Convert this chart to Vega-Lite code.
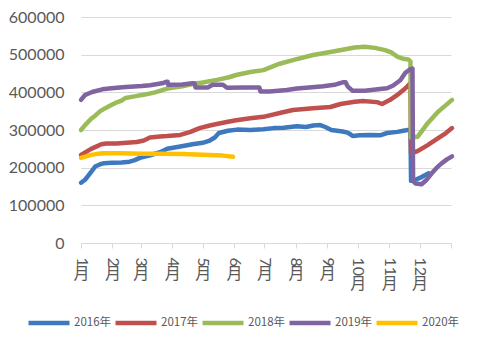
{
  "$schema": "https://vega.github.io/schema/vega-lite/v6.json",
  "width": 370,
  "height": 226,
  "autosize": {"type": "none"},
  "padding": {"left": 81, "top": 17, "right": 33, "bottom": 97},
  "background": "white",
  "config": {"view": {"stroke": null}},
  "data": {"values": [
    {"year":"2016年","day":0,"value":160000},{"year":"2016年","day":4,"value":168000},{"year":"2016年","day":7,"value":178000},{"year":"2016年","day":11,"value":192000},{"year":"2016年","day":14,"value":203000},{"year":"2016年","day":19,"value":209000},{"year":"2016年","day":23,"value":212000},{"year":"2016年","day":30,"value":213000},{"year":"2016年","day":40,"value":214000},{"year":"2016年","day":48,"value":216000},{"year":"2016年","day":53,"value":220000},{"year":"2016年","day":58,"value":226000},{"year":"2016年","day":68,"value":233000},{"year":"2016年","day":78,"value":241000},{"year":"2016年","day":85,"value":250000},{"year":"2016年","day":98,"value":256000},{"year":"2016年","day":110,"value":262000},{"year":"2016年","day":120,"value":266000},{"year":"2016年","day":127,"value":272000},{"year":"2016年","day":132,"value":280000},{"year":"2016年","day":136,"value":292000},{"year":"2016年","day":145,"value":298000},{"year":"2016年","day":154,"value":301000},{"year":"2016年","day":167,"value":300000},{"year":"2016年","day":180,"value":302000},{"year":"2016年","day":190,"value":305000},{"year":"2016年","day":200,"value":306000},{"year":"2016年","day":213,"value":310000},{"year":"2016年","day":222,"value":308000},{"year":"2016年","day":229,"value":312000},{"year":"2016年","day":236,"value":313000},{"year":"2016年","day":241,"value":308000},{"year":"2016年","day":247,"value":300000},{"year":"2016年","day":258,"value":296000},{"year":"2016年","day":263,"value":293000},{"year":"2016年","day":266,"value":288000},{"year":"2016年","day":268,"value":284000},{"year":"2016年","day":275,"value":286000},{"year":"2016年","day":285,"value":287000},{"year":"2016年","day":295,"value":286000},{"year":"2016年","day":302,"value":292000},{"year":"2016年","day":312,"value":295000},{"year":"2016年","day":318,"value":298000},{"year":"2016年","day":324,"value":301000},{"year":"2016年","day":325,"value":302000},{"year":"2016年","day":325.6,"value":165000},{"year":"2016年","day":330,"value":168000},{"year":"2016年","day":336,"value":175000},{"year":"2016年","day":343,"value":185000},
    {"year":"2017年","day":0,"value":234000},{"year":"2017年","day":5,"value":242000},{"year":"2017年","day":10,"value":250000},{"year":"2017年","day":15,"value":256000},{"year":"2017年","day":20,"value":262000},{"year":"2017年","day":25,"value":264000},{"year":"2017年","day":35,"value":264000},{"year":"2017年","day":45,"value":266000},{"year":"2017年","day":55,"value":268000},{"year":"2017年","day":62,"value":272000},{"year":"2017年","day":68,"value":280000},{"year":"2017年","day":78,"value":283000},{"year":"2017年","day":85,"value":284000},{"year":"2017年","day":98,"value":287000},{"year":"2017年","day":108,"value":295000},{"year":"2017年","day":117,"value":305000},{"year":"2017年","day":127,"value":312000},{"year":"2017年","day":134,"value":316000},{"year":"2017年","day":145,"value":322000},{"year":"2017年","day":153,"value":326000},{"year":"2017年","day":167,"value":331000},{"year":"2017年","day":180,"value":335000},{"year":"2017年","day":196,"value":345000},{"year":"2017年","day":209,"value":353000},{"year":"2017年","day":229,"value":358000},{"year":"2017年","day":246,"value":361000},{"year":"2017年","day":256,"value":369000},{"year":"2017年","day":270,"value":375000},{"year":"2017年","day":278,"value":377000},{"year":"2017年","day":292,"value":374000},{"year":"2017年","day":297,"value":369000},{"year":"2017年","day":305,"value":380000},{"year":"2017年","day":312,"value":393000},{"year":"2017年","day":318,"value":406000},{"year":"2017年","day":322,"value":416000},{"year":"2017年","day":325,"value":425000},{"year":"2017年","day":325.6,"value":238000},{"year":"2017年","day":332,"value":244000},{"year":"2017年","day":342,"value":260000},{"year":"2017年","day":352,"value":278000},{"year":"2017年","day":360,"value":292000},{"year":"2017年","day":366,"value":305000},
    {"year":"2018年","day":0,"value":300000},{"year":"2018年","day":4,"value":313000},{"year":"2018年","day":10,"value":330000},{"year":"2018年","day":14,"value":338000},{"year":"2018年","day":19,"value":350000},{"year":"2018年","day":24,"value":358000},{"year":"2018年","day":29,"value":365000},{"year":"2018年","day":34,"value":372000},{"year":"2018年","day":40,"value":378000},{"year":"2018年","day":44,"value":385000},{"year":"2018年","day":50,"value":388000},{"year":"2018年","day":54,"value":390000},{"year":"2018年","day":63,"value":394000},{"year":"2018年","day":73,"value":400000},{"year":"2018年","day":85,"value":410000},{"year":"2018年","day":100,"value":416000},{"year":"2018年","day":110,"value":422000},{"year":"2018年","day":120,"value":426000},{"year":"2018年","day":134,"value":433000},{"year":"2018年","day":146,"value":440000},{"year":"2018年","day":153,"value":446000},{"year":"2018年","day":167,"value":454000},{"year":"2018年","day":180,"value":459000},{"year":"2018年","day":196,"value":476000},{"year":"2018年","day":210,"value":486000},{"year":"2018年","day":229,"value":499000},{"year":"2018年","day":246,"value":507000},{"year":"2018年","day":262,"value":515000},{"year":"2018年","day":270,"value":519000},{"year":"2018年","day":280,"value":521000},{"year":"2018年","day":290,"value":518000},{"year":"2018年","day":300,"value":512000},{"year":"2018年","day":306,"value":506000},{"year":"2018年","day":312,"value":495000},{"year":"2018年","day":318,"value":489000},{"year":"2018年","day":323,"value":487000},{"year":"2018年","day":325,"value":482000},{"year":"2018年","day":325.4,"value":280000},{"year":"2018年","day":332,"value":282000},{"year":"2018年","day":342,"value":318000},{"year":"2018年","day":352,"value":348000},{"year":"2018年","day":360,"value":366000},{"year":"2018年","day":366,"value":380000},
    {"year":"2019年","day":0,"value":380000},{"year":"2019年","day":4,"value":393000},{"year":"2019年","day":11,"value":401000},{"year":"2019年","day":21,"value":408000},{"year":"2019年","day":30,"value":411000},{"year":"2019年","day":44,"value":414000},{"year":"2019年","day":60,"value":417000},{"year":"2019年","day":68,"value":419000},{"year":"2019年","day":80,"value":424000},{"year":"2019年","day":84,"value":428000},{"year":"2019年","day":85.5,"value":428000},{"year":"2019年","day":86,"value":420000},{"year":"2019年","day":100,"value":421000},{"year":"2019年","day":110,"value":424000},{"year":"2019年","day":112,"value":424000},{"year":"2019年","day":113,"value":413000},{"year":"2019年","day":125,"value":413000},{"year":"2019年","day":130,"value":420000},{"year":"2019年","day":140,"value":420000},{"year":"2019年","day":144,"value":412000},{"year":"2019年","day":160,"value":413000},{"year":"2019年","day":176,"value":413000},{"year":"2019年","day":177,"value":402000},{"year":"2019年","day":186,"value":402000},{"year":"2019年","day":203,"value":406000},{"year":"2019年","day":213,"value":410000},{"year":"2019年","day":225,"value":413000},{"year":"2019年","day":239,"value":416000},{"year":"2019年","day":250,"value":420000},{"year":"2019年","day":259,"value":427000},{"year":"2019年","day":261,"value":427000},{"year":"2019年","day":263,"value":416000},{"year":"2019年","day":268,"value":404000},{"year":"2019年","day":280,"value":404000},{"year":"2019年","day":295,"value":409000},{"year":"2019年","day":302,"value":411000},{"year":"2019年","day":308,"value":418000},{"year":"2019年","day":315,"value":432000},{"year":"2019年","day":320,"value":452000},{"year":"2019年","day":324,"value":460000},{"year":"2019年","day":327,"value":463000},{"year":"2019年","day":327.6,"value":165000},{"year":"2019年","day":330,"value":158000},{"year":"2019年","day":336,"value":156000},{"year":"2019年","day":341,"value":168000},{"year":"2019年","day":346,"value":185000},{"year":"2019年","day":351,"value":200000},{"year":"2019年","day":356,"value":212000},{"year":"2019年","day":361,"value":222000},{"year":"2019年","day":366,"value":230000},
    {"year":"2020年","day":0,"value":226000},{"year":"2020年","day":5,"value":230000},{"year":"2020年","day":10,"value":234000},{"year":"2020年","day":15,"value":236000},{"year":"2020年","day":22,"value":238000},{"year":"2020年","day":40,"value":238000},{"year":"2020年","day":60,"value":237000},{"year":"2020年","day":80,"value":237000},{"year":"2020年","day":100,"value":236000},{"year":"2020年","day":120,"value":234000},{"year":"2020年","day":140,"value":232000},{"year":"2020年","day":150,"value":229000}
  ]},
  "resolve": {"axis": {"x": "independent"}},
  "layer": [
    {
      "mark": {"type": "line", "strokeWidth": 4.5, "strokeCap": "round", "strokeJoin": "round"},
      "encoding": {
        "x": {"field": "day", "type": "quantitative",
          "scale": {"domain": [0, 365], "nice": false, "zero": false},
          "axis": {"values": [0,31,59,90,120,151,181,212,243,273,304,334,365],
            "labelExpr": "datum.value >= 365 ? '' : '' + (indexof([0,31,59,90,120,151,181,212,243,273,304,334], datum.value) + 1)",
            "labelAngle": 90, "labelAlign": "left", "labelBaseline": "middle",
            "labelFont": "Lato", "labelFontSize": 16, "labelColor": "#595959",
            "labelPadding": 9, "tickSize": 5, "tickColor": "#D9D9D9", "domainColor": "#D9D9D9",
            "grid": false, "title": null, "labelOverlap": false, "labelBound": false}},
        "y": {"field": "value", "type": "quantitative",
          "scale": {"domain": [0, 600000], "nice": false},
          "axis": {"values": [0,100000,200000,300000,400000,500000,600000], "format": "d",
            "domain": false, "ticks": false, "gridColor": "#D9D9D9", "gridWidth": 1,
            "labelFont": "Lato", "labelFontSize": 16, "labelColor": "#595959",
            "labelPadding": 17, "title": null}},
        "color": {"field": "year", "type": "nominal",
          "scale": {"domain": ["2016年","2017年","2018年","2019年","2020年"],
                    "range": ["#3E78BF","#C0504D","#9BBB59","#8064A2","#FFC000"]},
          "legend": {"orient": "none", "legendX": -55, "legendY": 283, "direction": "horizontal", "columns": 5,
            "title": null, "symbolType": "stroke", "symbolSize": 1681, "symbolStrokeWidth": 4.5,
            "labelFont": "Noto Sans CJK SC", "labelFontSize": 11.5, "labelColor": "#595959",
            "labelOffset": 2, "columnPadding": -6}}
      }
    },
    {
      "mark": {"type": "line", "opacity": 0},
      "encoding": {
        "x": {"field": "day", "type": "quantitative",
          "axis": {"orient": "bottom", "values": [0,31,59,90,120,151,181,212,243,273,304,334,365],
            "labelExpr": "datum.value >= 365 ? '' : '月'",
            "labelAngle": 0, "labelAlign": "center", "labelBaseline": "top",
            "labelFont": "Noto Sans CJK SC", "labelFontSize": 16, "labelColor": "#595959",
            "labelPadding": {"condition": {"test": "datum.value >= 273", "value": 32}, "value": 22},
            "domain": false, "ticks": false, "grid": false, "title": null, "labelOverlap": false, "labelBound": false}},
        "detail": {"field": "year", "type": "nominal"}
      }
    }
  ]
}
